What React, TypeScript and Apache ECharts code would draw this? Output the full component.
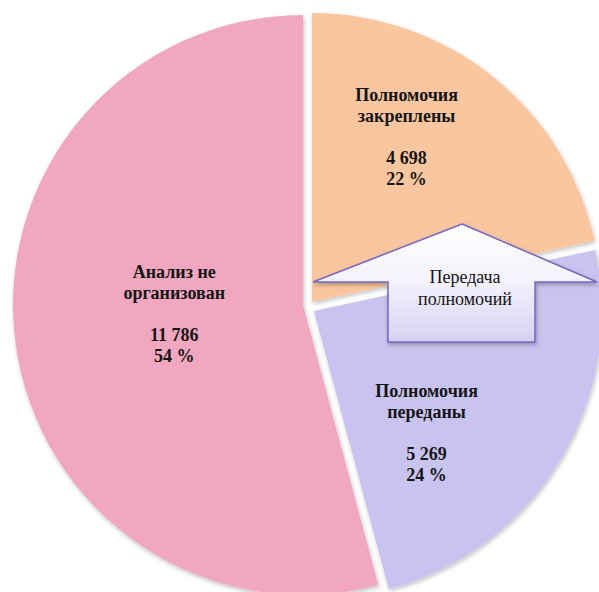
import React, { useEffect, useRef } from "react";
import * as echarts from "echarts";

const categories = ["Полномочия\nзакреплены", "Полномочия\nпереданы", "Анализ не\nорганизован"];
const values = [4698, 5269, 11786];
const colors = ["#F9C6A0", "#C9C4EF", "#F0A7BF"];
const arrowText = "Передача\nполномочий";

// layout per slice (exploded pieces): centre, radius, label shift
const layouts = [
  { center: [312, 302], radius: 289, dx: 2, dy: -50 },
  { center: [314, 311], radius: 288, dx: -13, dy: 46 },
  { center: [303, 305], radius: 290, dx: 18, dy: -10 },
];

const FONT = "Liberation Serif";

const fmt = (v: number) => String(v).replace(/\B(?=(\d{3})+(?!\d))/g, " ");

export default function App() {
  const ref = useRef<HTMLDivElement>(null);
  useEffect(() => {
    if (!ref.current) return;
    const chart = echarts.init(ref.current, null, { renderer: "svg" });
    const series = layouts.map((lay, si) => ({
      type: "pie",
      center: lay.center,
      radius: lay.radius,
      startAngle: 90,
      clockwise: true,
      silent: true,
      avoidLabelOverlap: false,
      labelLine: { show: false },
      labelLayout: () => ({ dx: lay.dx, dy: lay.dy }),
      z: si === 1 ? 3 : 2,
      data: values.map((v, i) => ({
        name: categories[i],
        value: v,
        itemStyle:
          i === si
            ? {
                color: colors[i],
                shadowBlur: 4,
                shadowColor: "rgba(0,0,0,0.25)",
                shadowOffsetX: 1,
                shadowOffsetY: 2,
              }
            : { color: "rgba(0,0,0,0)" },
        label:
          i === si
            ? {
                show: true,
                position: "inside",
                formatter: (p: any) => `${p.name}\n\n${fmt(p.value)}\n${Math.round(p.percent)} %`,
                fontFamily: FONT,
                fontWeight: "bold",
                fontSize: 18,
                lineHeight: 21,
                color: "#151515",
                align: "center",
              }
            : { show: false },
      })),
    }));
    chart.setOption({
      animation: false,
      backgroundColor: "#ffffff",
      series,
      graphic: [
        {
          type: "polygon",
          z: 100,
          shape: {
            points: [
              [462, 224],
              [597, 282],
              [535, 282],
              [535, 342],
              [388, 342],
              [388, 282],
              [313, 282],
            ],
          },
          style: {
            fill: new echarts.graphic.LinearGradient(0, 0, 0, 1, [
              { offset: 0, color: "#FFFFFF" },
              { offset: 0.5, color: "#F3F1FC" },
              { offset: 1, color: "#D6D1F3" },
            ]),
            stroke: "#7468C4",
            lineWidth: 1.5,
            shadowBlur: 4,
            shadowColor: "rgba(0,0,0,0.3)",
            shadowOffsetX: 1,
            shadowOffsetY: 2,
          },
        },
        {
          type: "text",
          z: 101,
          x: 465,
          y: 288,
          style: {
            text: arrowText,
            fontFamily: FONT,
            fontSize: 18,
            lineHeight: 22,
            fill: "#151515",
            align: "center",
            verticalAlign: "middle",
          },
        },
      ],
    });
    return () => chart.dispose();
  }, []);
  return (
    <div
      ref={ref}
      style={{ position: "fixed", left: 0, top: 0, width: 599, height: 592 }}
    />
  );
}
